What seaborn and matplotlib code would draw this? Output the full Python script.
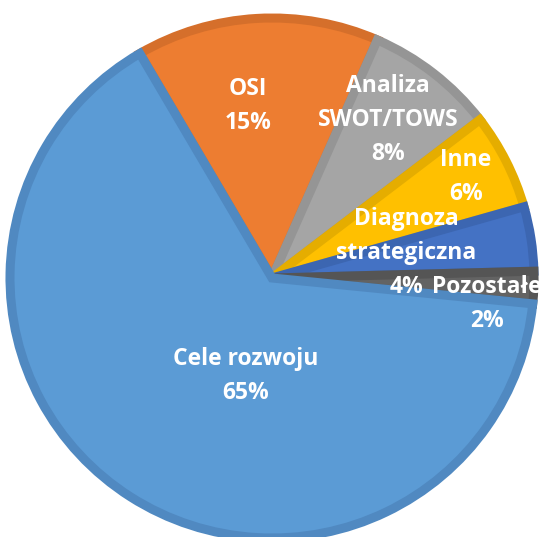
import matplotlib
matplotlib.use("Agg")
import matplotlib.pyplot as plt
import seaborn as sns

# ---- data (pie order, clockwise) ----
categories = ["OSI", "Analiza\nSWOT/TOWS", "Inne", "Diagnoza\nstrategiczna", "Pozostałe", "Cele rozwoju"]
values = [15, 8, 6, 4, 2, 65]
pct_labels = ["15%", "8%", "6%", "4%", "2%", "65%"]

fill_colors = ["#ED7D31", "#A5A5A5", "#FFC000", "#4472C4", "#636363", "#5B9BD5"]
edge_colors = ["#D56F2B", "#959595", "#E5AD00", "#3C66B1", "#555555", "#5089C1"]

sns.set_theme(style="white")
plt.rcParams["font.family"] = ["Open Sans", "DejaVu Sans"]

W, H, DPI = 539, 537, 100
fig = plt.figure(figsize=(W / DPI, H / DPI), dpi=DPI)
ax = fig.add_axes([0, 0, 1, 1])

wedges, _ = ax.pie(values, startangle=120.3, counterclock=False, radius=1.0,
                   center=(0, 0), colors=fill_colors,
                   wedgeprops=dict(linewidth=6.5, joinstyle="miter"))
for w, ec in zip(wedges, edge_colors):
    w.set_edgecolor(ec)
    w.set_clip_path(w)

# pixel geometry of the reference: centre (272, 278), radius ~262 x 260
cx, cy, rx, ry = 272.0, 278.0, 262.0, 260.0
ax.set_aspect("auto")
ax.set_xlim((0 - cx) / rx, (W - cx) / rx)
ax.set_ylim((cy - H) / ry, (cy - 0) / ry)
ax.axis("off")

def px(x, y):
    return (x - cx) / rx, (cy - y) / ry

# label block centres in pixels
label_pos = [(248, 106), (388, 120), (466, 177), (406, 253), (487, 304), (246, 376)]
tx_kw = dict(color="white", fontweight="bold", fontsize=16.5, ha="center", va="center",
             linespacing=1.55)
for i, (cat, pl) in enumerate(zip(categories, pct_labels)):
    x, y = px(*label_pos[i])
    ax.text(x, y, f"{cat}\n{pl}", **tx_kw)

fig.savefig("out.png", dpi=DPI)
